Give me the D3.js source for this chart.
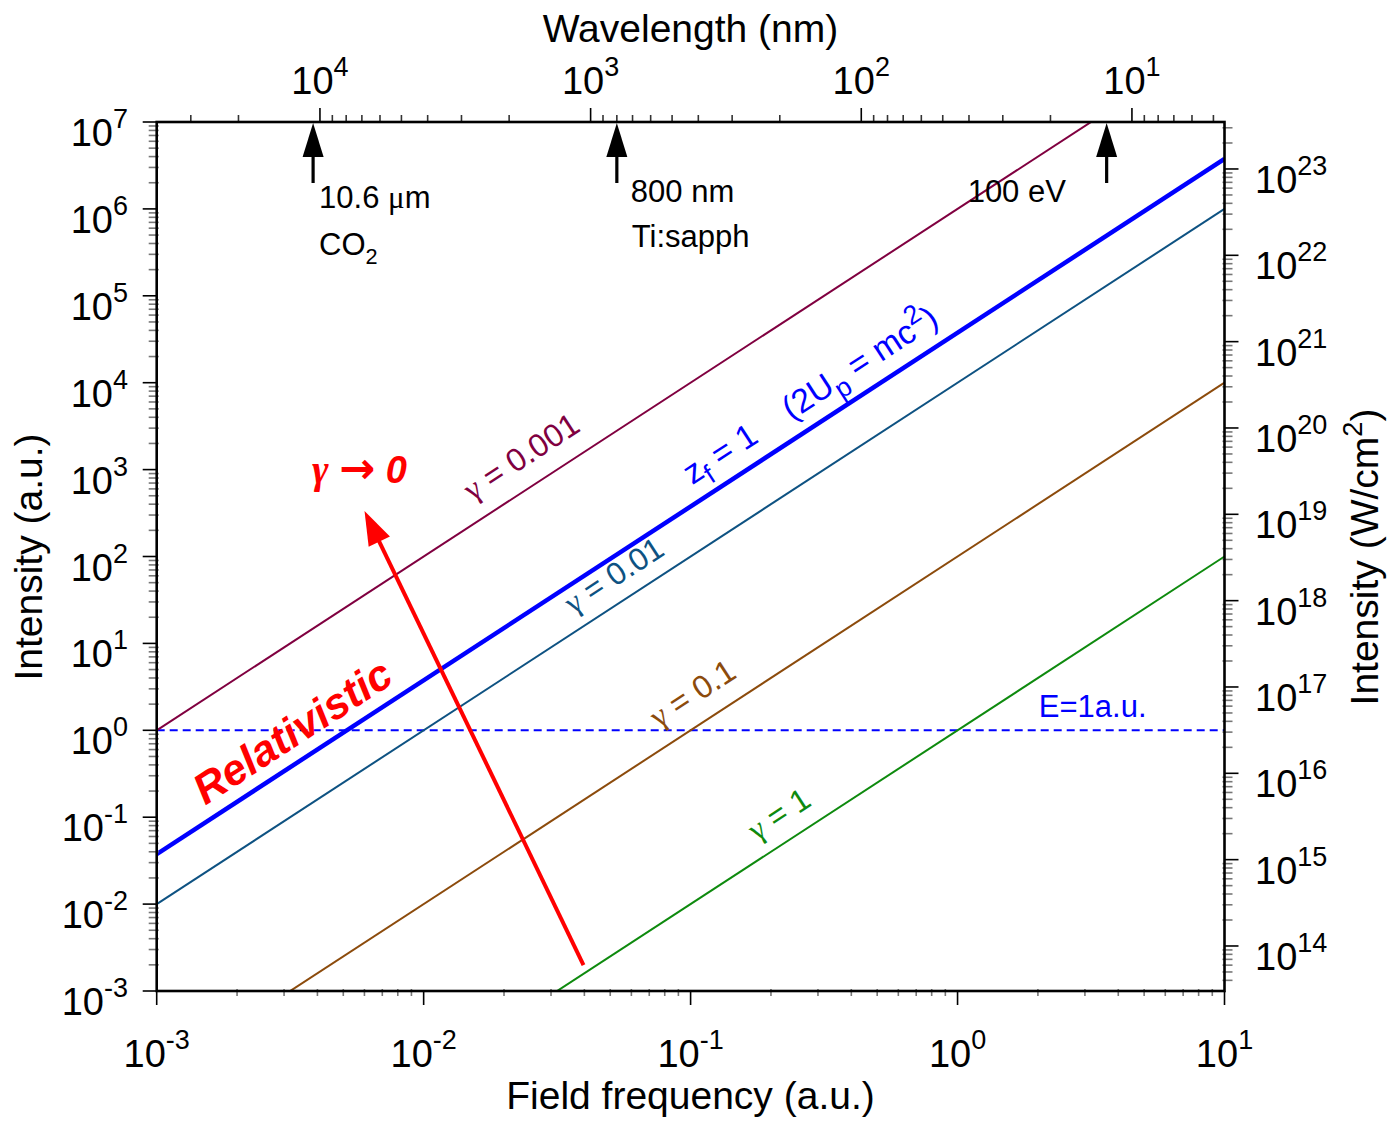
<!DOCTYPE html>
<html><head><meta charset="utf-8">
<script src="https://cdn.jsdelivr.net/npm/d3@7"></script>
<style>
body{margin:0;background:#fff}
text{font-family:"Liberation Sans",Arial,sans-serif;white-space:pre}
</style>
</head><body>
<svg id="c" width="1393" height="1124"></svg>
<script>
// ---------- data ----------
const omegaDomain = [1e-3, 10];                 // field frequency (a.u.)
const intensityDomain = [1e-3, 1e7];            // intensity (a.u.)
const wavelengthDomain = [40100, 4.55];         // top axis, nm
const intensityWcm2Domain = [3.01e13, 3.50e23]; // right axis, W/cm^2
const omegaPoints = [1e-3, 10];
const gamma0001 = [1, 1e8];
const gamma001 = [1e-2, 1e6];
const gamma01 = [1e-4, 1e4];
const gamma1 = [1e-6, 1e2];
const zf1 = [0.0376, 3.76e6];
const fieldOneAu = [1, 1];
const bottomExps = [-3, -2, -1, 0, 1];
const leftExps = [-3, -2, -1, 0, 1, 2, 3, 4, 5, 6, 7];
const topExps = [4, 3, 2, 1];
const rightExps = [14, 15, 16, 17, 18, 19, 20, 21, 22, 23];
const arrowWavelengths = [10600, 800, 12.4];
const redArrowFrom = [0.0397, 0.00199];
const redArrowTo = [0.006005, 333.9];

// ---------- layout ----------
const svg = d3.select("#c");
const L = 156.7, R = 1224.5, T = 122, B = 991;
const x = d3.scaleLog().domain(omegaDomain).range([L, R]);
const y = d3.scaleLog().domain(intensityDomain).range([B, T]);
const xTop = d3.scaleLog().domain(wavelengthDomain).range([L, R]);
const yR = d3.scaleLog().domain(intensityWcm2Domain).range([B, T]);

svg.append("defs").append("clipPath").attr("id", "clip")
  .append("rect").attr("x", L).attr("y", T).attr("width", R - L).attr("height", B - T);

const line = d3.line().x(d => x(d[0])).y(d => y(d[1]));
const plot = svg.append("g").attr("clip-path", "url(#clip)");

const series = [
  {v: fieldOneAu, color: "#0000ff", w: 2, dash: "8,5"},
  {v: gamma0001, color: "#800040", w: 2},
  {v: gamma001, color: "#0e5282", w: 2},
  {v: gamma01, color: "#8c4b0c", w: 2},
  {v: gamma1, color: "#0e8a0e", w: 2},
  {v: zf1, color: "#0000ff", w: 4.5}
];
series.forEach(s => {
  plot.append("path")
    .datum(omegaPoints.map((o, i) => [o, s.v[i]]))
    .attr("d", line).attr("fill", "none")
    .attr("stroke", s.color).attr("stroke-width", s.w)
    .attr("stroke-dasharray", s.dash || null);
});

// ---------- ticks ----------
const ticks = svg.append("g");
function minorVals(dom) {
  const lo = Math.min(...dom), hi = Math.max(...dom), out = [];
  for (let k = Math.floor(Math.log10(lo)) - 1; k <= Math.ceil(Math.log10(hi)); k++)
    for (let m = 2; m <= 9; m++) { const v = m * Math.pow(10, k); if (v > lo * 1.01 && v < hi / 1.01) out.push(v); }
  return out;
}
function tick(x1, y1, x2, y2, major, col) {
  ticks.append("line").attr("x1", x1).attr("y1", y1).attr("x2", x2).attr("y2", y2)
    .attr("stroke", major ? "#000" : (col || "#777")).attr("stroke-width", 1.6);
}
// left
leftExps.forEach(e => tick(L - 14, y(Math.pow(10, e)), L, y(Math.pow(10, e)), true));
minorVals(intensityDomain).forEach(v => tick(L - 8, y(v), L + 2, y(v), false));
// bottom
bottomExps.forEach(e => tick(x(Math.pow(10, e)), B, x(Math.pow(10, e)), B + 14, true));
minorVals(omegaDomain).forEach(v => tick(x(v), B - 2, x(v), B + 5, false));
// top
topExps.forEach(e => tick(xTop(Math.pow(10, e)), T - 14, xTop(Math.pow(10, e)), T, true));
minorVals(wavelengthDomain).forEach(v => tick(xTop(v), T - 7, xTop(v), T, false, "#333"));
// right
rightExps.forEach(e => tick(R, yR(Math.pow(10, e)), R + 14, yR(Math.pow(10, e)), true));
minorVals(intensityWcm2Domain).forEach(v => tick(R - 2, yR(v), R + 8, yR(v), false));

// frame
svg.append("rect").attr("x", L).attr("y", T).attr("width", R - L).attr("height", B - T)
  .attr("fill", "none").attr("stroke", "#000").attr("stroke-width", 2.6);

// ---------- tick labels ----------
function powLabel(px, py, exp, anchor) {
  const t = svg.append("text").attr("x", px).attr("y", py).attr("text-anchor", anchor)
    .attr("font-size", 38).attr("fill", "#000");
  t.append("tspan").text("10");
  t.append("tspan").attr("dy", -18).attr("font-size", 27).text(String(exp));
}
leftExps.forEach(e => powLabel(128, y(Math.pow(10, e)) + 24, e, "end"));
bottomExps.forEach(e => powLabel(x(Math.pow(10, e)), 1067, e, "middle"));
topExps.forEach(e => powLabel(xTop(Math.pow(10, e)), 94.3, e, "middle"));
rightExps.forEach(e => powLabel(1255, yR(Math.pow(10, e)) + 24, e, "start"));

// ---------- rich text helper ----------
function rich(t, parts, size, scl) {
  let shift = 0;
  const sc = scl || 0.7;
  parts.forEach(p => {
    const target = p.sub ? size * 0.28 : p.sup ? -size * 0.42 : 0;
    const ts = t.append("tspan").text(p.t).attr("dy", target - shift);
    shift = target;
    if (p.sub || p.sup) ts.attr("font-size", size * sc);
    if (p.g) ts.attr("font-family", "'Liberation Serif',serif").attr("font-style", p.gi ? "italic" : null);
    if (p.bold) ts.attr("font-weight", "bold");
    if (p.bi) ts.attr("font-weight", "bold").attr("font-style", "italic");
    if (p.fam) ts.attr("font-family", p.fam);
    if (p.fs) ts.attr("font-size", p.fs);
  });
  return t;
}

// ---------- axis titles ----------
svg.append("text").attr("x", 690.5).attr("y", 41.7).attr("text-anchor", "middle").attr("font-size", 39).text("Wavelength (nm)");
svg.append("text").attr("x", 690.5).attr("y", 1109).attr("text-anchor", "middle").attr("font-size", 39).text("Field frequency (a.u.)");
svg.append("text").attr("transform", "translate(42,557) rotate(-90)").attr("text-anchor", "middle").attr("font-size", 39).text("Intensity (a.u.)");
rich(svg.append("text").attr("transform", "translate(1378,557) rotate(-90)").attr("text-anchor", "middle").attr("font-size", 39),
  [{t: "Intensity (W/cm"}, {t: "2", sup: 1}, {t: ")"}], 39);

// ---------- black arrows and annotations ----------
const arrowLabels = [
  [{dx: 6, dy: 208.3, parts: [{t: "10.6 "}, {t: "μ", g: 1}, {t: "m"}]}, {dx: 6, dy: 255, parts: [{t: "CO"}, {t: "2", sub: 1}]}],
  [{dx: 14, dy: 201.7, parts: [{t: "800 nm"}]}, {dx: 15, dy: 246.7, parts: [{t: "Ti:sapph"}]}],
  [{dx: -139, dy: 201.7, parts: [{t: "100 eV"}]}]
];
arrowWavelengths.forEach((lam, i) => {
  const ax = xTop(lam);
  svg.append("line").attr("x1", ax).attr("x2", ax).attr("y1", T + 30).attr("y2", T + 61)
    .attr("stroke", "#000").attr("stroke-width", 3.2);
  svg.append("path").attr("d", `M${ax},${T + 1}L${ax - 10.5},${T + 35}L${ax + 10.5},${T + 35}Z`).attr("fill", "#000");
  arrowLabels[i].forEach(l => {
    rich(svg.append("text").attr("x", ax + l.dx).attr("y", l.dy).attr("font-size", 31).attr("fill", "#000"), l.parts, 31);
  });
});

// ---------- line labels ----------
const ang = Math.atan2(y(zf1[1]) - y(zf1[0]), x(omegaPoints[1]) - x(omegaPoints[0])) * 180 / Math.PI;
const lineLabels = [
  {parts: [{t: "γ", g: 1}, {t: " = 0.001"}], color: "#800040", at: [0.01522, 430], size: 32},
  {parts: [{t: "γ", g: 1}, {t: " = 0.01"}], color: "#0e5282", at: [0.0363, 21.5], size: 31.5},
  {parts: [{t: "z"}, {t: "f", sub: 1}, {t: " = 1    (2U"}, {t: "p", sub: 1}, {t: " = mc"}, {t: "2", sup: 1}, {t: ")"}], color: "#0000ff", at: [0.1014, 660], size: 33.5, scl: 0.8},
  {parts: [{t: "γ", g: 1}, {t: " = 0.1"}], color: "#8c4b0c", at: [0.0758, 1.05], size: 32},
  {parts: [{t: "γ", g: 1}, {t: " = 1"}], color: "#0e8a0e", at: [0.1766, 0.0526], size: 31.5}
];
lineLabels.forEach(l => {
  rich(svg.append("text").attr("transform", `translate(${x(l.at[0])},${y(l.at[1])}) rotate(${ang})`)
    .attr("font-size", l.size).attr("fill", l.color), l.parts, l.size, l.scl);
});
svg.append("text").attr("x", x(2.016)).attr("y", y(1.434)).attr("font-size", 31).attr("fill", "#0000ff").text("E=1a.u.");

// ---------- red annotations ----------
svg.append("text").attr("transform", `translate(${x(0.00152)},${y(0.135)}) rotate(${ang})`)
  .attr("font-size", 43).attr("font-weight", "bold").attr("font-style", "italic").attr("fill", "#ff0000").text("Relativistic");
rich(svg.append("text").attr("x", x(0.00382)).attr("y", y(701)).attr("font-size", 38).attr("fill", "#ff0000"),
  [{t: "γ", g: 1, gi: 1, bold: 1, fs: 40}, {t: " "}, {t: "→", fam: "'DejaVu Sans',sans-serif", bold: 1, fs: 43}, {t: " 0", bi: 1}], 38);

const p0 = [x(redArrowFrom[0]), y(redArrowFrom[1])], p1 = [x(redArrowTo[0]), y(redArrowTo[1])];
const dx = p1[0] - p0[0], dy = p1[1] - p0[1], len = Math.hypot(dx, dy), ux = dx / len, uy = dy / len;
const headL = 34, headW = 11.8;
const bx = p1[0] - ux * headL, by = p1[1] - uy * headL;
svg.append("line").attr("x1", p0[0]).attr("y1", p0[1]).attr("x2", bx + ux * 4).attr("y2", by + uy * 4)
  .attr("stroke", "#ff0000").attr("stroke-width", 4);
svg.append("path").attr("d", `M${p1[0]},${p1[1]}L${bx - uy * headW},${by + ux * headW}L${bx + uy * headW},${by - ux * headW}Z`).attr("fill", "#ff0000");
</script>
</body></html>
